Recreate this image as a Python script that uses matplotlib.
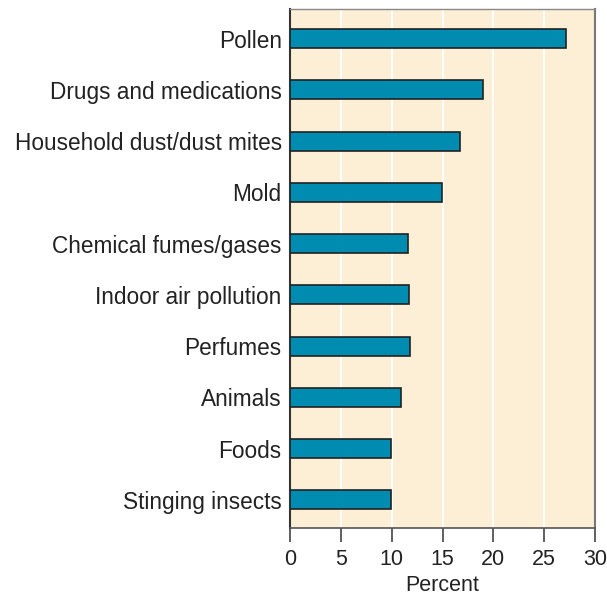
import matplotlib
matplotlib.use('Agg')
import matplotlib.pyplot as plt
import numpy as np

plt.rcParams['font.family'] = ['Liberation Sans', 'DejaVu Sans']

# categories listed top to bottom
categories = ['Pollen', 'Drugs and medications', 'Household dust/dust mites', 'Mold',
              'Chemical fumes/gases', 'Indoor air pollution', 'Perfumes', 'Animals',
              'Foods', 'Stinging insects']
percent = [27.1, 19.0, 16.7, 14.9, 11.6, 11.7, 11.8, 10.9, 9.9, 9.9]
xticks = [0, 5, 10, 15, 20, 25, 30]

fig = plt.figure(figsize=(6.07, 5.98), dpi=100)
ax = fig.add_axes([0.4778, 0.117, 0.5025, 0.868])
ax.set_facecolor('#fdefd6')

y = np.arange(len(categories))[::-1]
ax.barh(y, percent, height=0.37, color='#008bb0', edgecolor='#222222', linewidth=1.2, zorder=3)

ax.set_xlim(0, 30)
ax.set_ylim(-0.55, len(categories) - 0.42)
ax.set_xticks(xticks)
ax.set_yticks(y)
ax.set_yticklabels(categories, fontsize=16.3, color='#222222')
ax.tick_params(axis='y', length=0, pad=6)
ax.tick_params(axis='x', length=10, width=1.2, color='#444444', labelsize=15.5, labelcolor='#222222', pad=5)
ax.set_xlabel('Percent', fontsize=15.5, color='#222222', labelpad=4)

for v in xticks[1:-1]:
    ax.axvline(v, color='white', linewidth=1.3, zorder=1)

ax.spines['left'].set_color('#333333')
ax.spines['left'].set_linewidth(1.5)
ax.spines['bottom'].set_color('#555555')
ax.spines['bottom'].set_linewidth(1.2)
ax.spines['right'].set_color('#777777')
ax.spines['right'].set_linewidth(1.5)
ax.spines['top'].set_color('#888888')
ax.spines['top'].set_linewidth(1.0)

fig.savefig('out.png', dpi=100)
